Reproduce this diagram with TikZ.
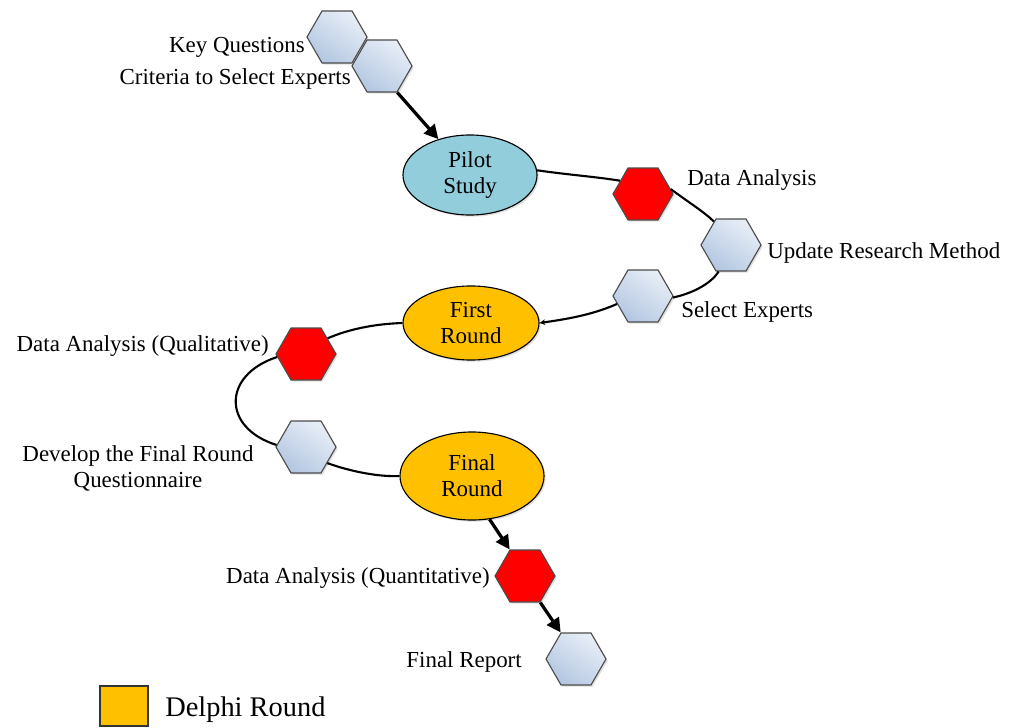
\documentclass[tikz,border=0pt]{standalone}
\usepackage{fontspec}
\setmainfont{Liberation Serif}
\usetikzlibrary{shapes.geometric,arrows.meta,shadows}
\definecolor{pilotblue}{HTML}{92CDDC}
\definecolor{delphi}{HTML}{FFC000}
\definecolor{hexA}{HTML}{E8EEF7}
\definecolor{hexB}{HTML}{B3C7E1}
\definecolor{hexred}{HTML}{FF0000}
\begin{document}
\begin{tikzpicture}[x=0.025cm,y=-0.025cm,
  lab/.style={font=\fontsize{16.3}{18.5}\selectfont, inner sep=0pt, align=center},
  hexbase/.style={regular polygon, regular polygon sides=6, minimum size=1.5cm, inner sep=0pt,
    draw=black!70, line width=0.8pt,
    drop shadow={opacity=0.25, shadow xshift=1.2pt, shadow yshift=-1.2pt}},
  hexlight/.style={hexbase, top color=hexA, bottom color=hexB, shading angle=-35},
  hexredst/.style={hexbase, fill=hexred},
  ell/.style={ellipse, draw=black, line width=0.8pt, inner sep=0pt, align=center,
    font=\fontsize{16.3}{18.5}\selectfont,
    drop shadow={opacity=0.25, shadow xshift=1.2pt, shadow yshift=-1.2pt}},
  conn/.style={line width=1.5pt},
  bigarrow/.style={line width=2.3pt, -{Triangle[length=10pt,width=10pt]}},
]
\useasboundingbox (0,0) rectangle (1017,728);

% nodes
\node[hexlight] (k1) at (337,37) {};
\node[hexlight] (k2) at (382,66) {};
\node[ell, fill=pilotblue, minimum width=3.35cm, minimum height=2.0cm] (pilot) at (470,175) {Pilot\\Study};
\node[hexredst] (da1) at (643,194) {};
\node[hexlight] (upd) at (731,245) {};
\node[hexlight] (sel) at (643,296) {};
\node[ell, fill=delphi, minimum width=3.4cm, minimum height=1.85cm] (first) at (471,323) {First\\Round};
\node[hexredst] (qual) at (306,354) {};
\node[hexlight] (dev) at (306,447) {};
\node[ell, fill=delphi, minimum width=3.6cm, minimum height=2.2cm] (final) at (472,476) {Final\\Round};
\node[hexredst] (quant) at (525,576) {};
\node[hexlight] (rep) at (576,659) {};

% labels
\node[lab, anchor=east] (lk1) at (305,47) {Key Questions};
\node[lab, anchor=east] (lk2) at (351,79) {Criteria to Select Experts};
\node[lab, anchor=west] (lda1) at (687,180) {Data Analysis};
\node[lab, anchor=west] (lupd) at (767,253) {Update Research Method};
\node[lab, anchor=west] (lsel) at (681,312) {Select Experts};
\node[lab, anchor=east] (lqual) at (269,346) {Data Analysis (Qualitative)};
\node[lab] (ldev) at (138,468) {Develop the Final Round\\Questionnaire};
\node[lab, anchor=east] (lquant) at (490,578) {Data Analysis (Quantitative)};
\node[lab, anchor=east] (lrep) at (522,662) {Final Report};

% connectors
\draw[bigarrow] (k2.-60) -- (pilot);
\draw[conn] (pilot.4) .. controls (570,175) and (598,177) .. (da1.150);
\draw[conn] (da1.10) .. controls (688,202) and (703,211) .. (upd.126);
\draw[conn] (upd.-115) .. controls (710,285) and (690,294) .. (sel.-3);
\draw[conn, -{Stealth[length=4pt,width=4pt]}] (sel.197) .. controls (590,316) and (560,320) .. (first.east);
\draw[conn] (first.west) .. controls (372,324) and (347,330) .. (qual.36);
\draw[conn] (qual.186) .. controls (222,375) and (222,428) .. (dev.176);
\draw[conn] (dev.-37) .. controls (352,472) and (380,477) .. (final.west);
\draw[bigarrow] (final.-68) -- (quant.120);
\draw[bigarrow] (quant.-60) -- (rep.120);

% legend
\node[draw=black!80, fill=delphi, line width=0.8pt, minimum width=1.2cm, minimum height=1.0cm, inner sep=0pt] (legbox) at (124,706) {};
\node[font=\fontsize{20.2}{24}\selectfont, inner sep=0pt, anchor=west] (legtxt) at (165,710) {Delphi Round};
\end{tikzpicture}
\end{document}
